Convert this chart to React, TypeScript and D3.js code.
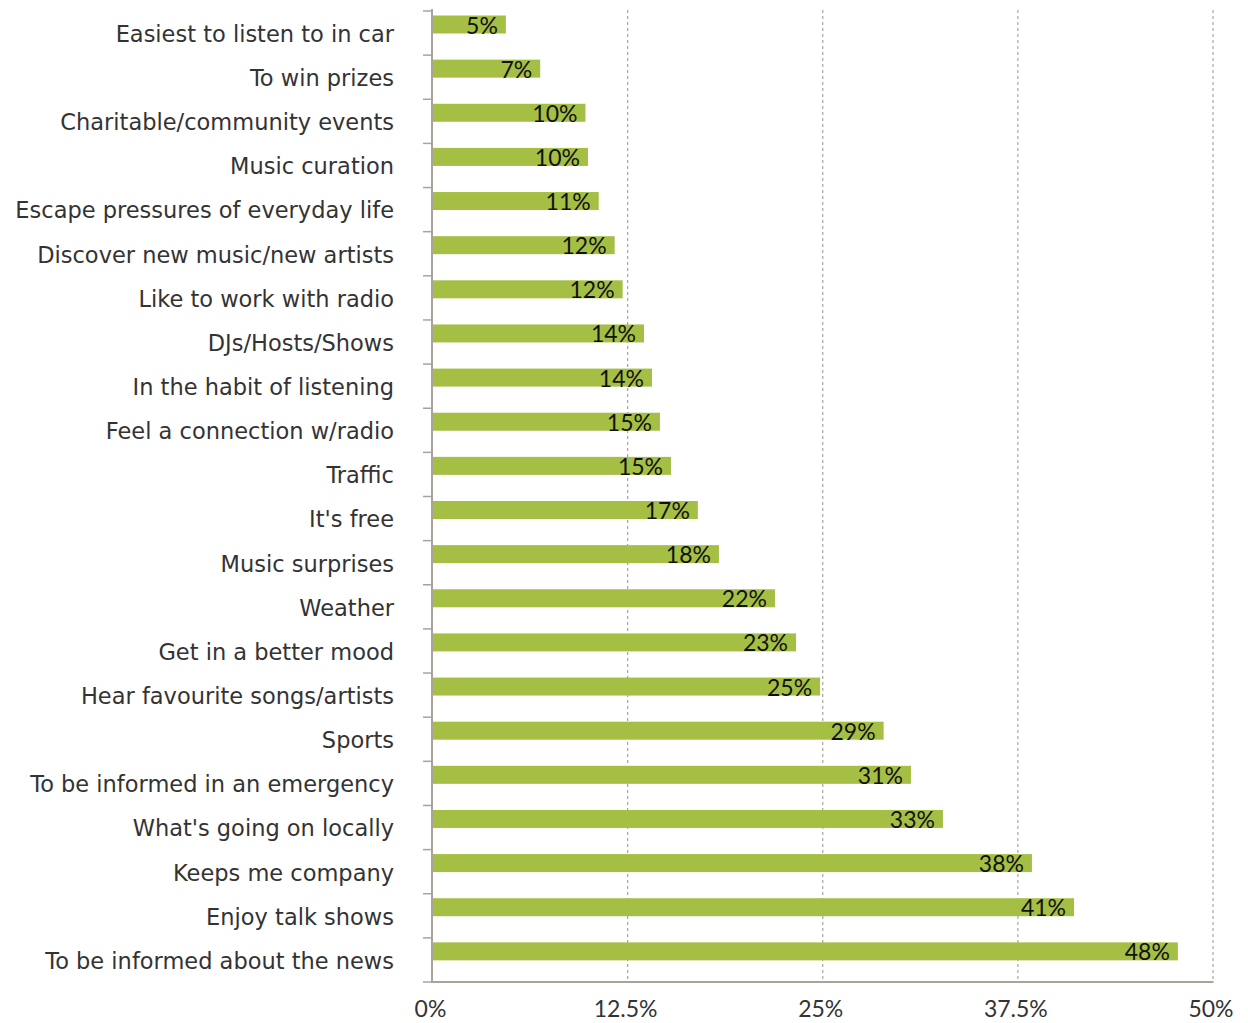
import React from "react";
import * as d3 from "d3";

const categories = [
  "Easiest to listen to in car",
  "To win prizes",
  "Charitable/community events",
  "Music curation",
  "Escape pressures of everyday life",
  "Discover new music/new artists",
  "Like to work with radio",
  "DJs/Hosts/Shows",
  "In the habit of listening",
  "Feel a connection w/radio",
  "Traffic",
  "It's free",
  "Music surprises",
  "Weather",
  "Get in a better mood",
  "Hear favourite songs/artists",
  "Sports",
  "To be informed in an emergency",
  "What's going on locally",
  "Keeps me company",
  "Enjoy talk shows",
  "To be informed about the news",
];

const values = [
  4.7, 6.9, 9.8, 9.96, 10.65, 11.67, 12.18, 13.55, 14.06, 14.57, 15.28, 17.0,
  18.35, 21.94, 23.29, 24.83, 28.9, 30.65, 32.7, 38.4, 41.1, 47.75,
];

const xTicks = [0, 12.5, 25, 37.5, 50];
const xTickLabels = ["0%", "12.5%", "25%", "37.5%", "50%"];

const FONT = "Lato, 'Open Sans', sans-serif";
const CAT_FONT = "'DejaVu Sans', sans-serif";
const BAR = "#a5bf45";
const AXIS = "#aaa39b";

export default function App() {
  const W = 1248;
  const H = 1023;
  const x = d3.scaleLinear().domain([0, 50]).range([432.5, 1213]);
  const y = d3.scaleBand<string>().domain(categories).range([11, 982]).paddingInner(0).paddingOuter(0);
  const bw = y.bandwidth();
  const boundaries = d3.range(categories.length + 1).map((i) => 11 + i * bw);

  return (
    <div style={{ position: "absolute", left: 0, top: 0 }}>
      <svg width={W} height={H} style={{ display: "block", background: "#fff" }}>
        {xTicks.slice(1).map((t) => (
          <line
            key={"g" + t}
            x1={x(t)}
            x2={x(t)}
            y1={10}
            y2={982}
            stroke={AXIS}
            strokeWidth={1.2}
            strokeDasharray="3,3"
          />
        ))}
        {categories.map((c, i) => {
          const y0 = (y(c) as number) + 4.5;
          return (
            <g key={c}>
              <rect x={x(0)} y={y0} width={x(values[i]) - x(0)} height={18} fill={BAR} />
              <text
                x={x(values[i]) - 8}
                y={y0 + 18}
                textAnchor="end"
                fontFamily={FONT}
                fontSize={23}
                fill="#111"
              >
                {Math.round(values[i]) + "%"}
              </text>
              <text
                x={394}
                y={(y(c) as number) + bw / 2 + 1}
                dy="0.35em"
                textAnchor="end"
                fontFamily={CAT_FONT}
                fontSize={22.5}
                fill="#333"
              >
                {c}
              </text>
            </g>
          );
        })}
        <line x1={432} x2={432} y1={9} y2={983} stroke={AXIS} strokeWidth={2} />
        {boundaries.map((b, i) => (
          <line key={"t" + i} x1={423} x2={432} y1={b} y2={b} stroke={AXIS} strokeWidth={1.5} />
        ))}
        <line x1={431} x2={1213.5} y1={982} y2={982} stroke={AXIS} strokeWidth={2} />
        {xTicks.map((t, i) => (
          <text
            key={"xl" + t}
            x={x(t) - 2}
            y={1017}
            textAnchor="middle"
            fontFamily={FONT}
            fontSize={23}
            fill="#333"
          >
            {xTickLabels[i]}
          </text>
        ))}
      </svg>
    </div>
  );
}
